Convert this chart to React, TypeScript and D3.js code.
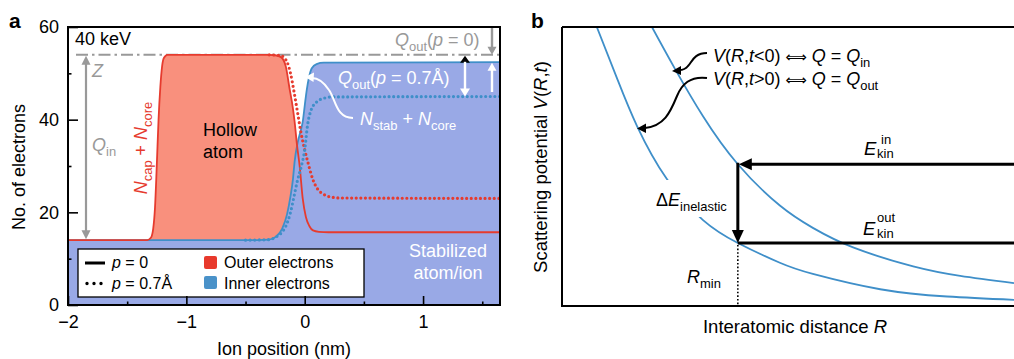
import * as d3 from 'd3';
import { useEffect, useRef } from 'react';

const FONT = '"Liberation Sans", Arial, Helvetica, sans-serif';

// ---- panel a: electrons vs ion position (nm) ----
const outerP0X = [-2, -1.33, -1.3, -1.28, -1.265, -1.25, -1.235, -1.22, -1.205, -1.19, -1.16, -1.1, -0.3, -0.25, -0.2, -0.16, -0.13, -0.1, -0.085, -0.065, -0.042, -0.017, 0.01, 0.04, 0.07, 0.12, 0.2, 1.65];
const outerP0Y = [14, 14, 14.5, 16.5, 21, 30, 40, 47, 51.5, 53.3, 54, 54, 54, 53.9, 53.5, 51.5, 47, 42.5, 39.5, 34.5, 29.8, 23, 19, 17, 16.1, 15.8, 15.7, 15.7];
const outerP07X = [-0.3, -0.2, -0.15, -0.12, -0.09, -0.06, -0.03, 0, 0.03, 0.07, 0.11, 0.16, 0.22, 0.3, 1.65];
const outerP07Y = [54, 53.8, 52.5, 50, 46, 41.5, 37, 33.5, 30.5, 27, 25, 23.9, 23.3, 23.1, 23];
const innerP0X = [-2, -0.4, -0.3, -0.24, -0.19, -0.15, -0.12, -0.1, -0.085, -0.06, -0.035, -0.017, 0, 0.017, 0.035, 0.06, 0.1, 0.16, 1.65];
const innerP0Y = [14, 14, 14.1, 14.8, 16.5, 19.5, 23.5, 27, 31, 35, 37.5, 39.5, 43, 46.4, 49, 51.1, 52, 52.3, 52.4];
const innerP07X = [-0.5, -0.3, -0.25, -0.2, -0.16, -0.12, -0.09, -0.06, -0.03, 0, 0.025, 0.05, 0.1, 0.16, 0.23, 1.65];
const innerP07Y = [14, 14.1, 14.6, 15.5, 17, 20, 23.5, 27, 29.8, 33.5, 39, 41.8, 43.8, 44.6, 44.9, 45];
const xTicksA = [-2, -1, 0, 1];
const xMinorA = [-1.5, -0.5, 0.5, 1.5];
const yTicksA = [0, 20, 40, 60];
const yMinorA = [10, 30, 50];
const Z = 54;
const Q_OUT_P0 = 52.4;
const Q_OUT_P07 = 45;
const Q_IN = 14;

// ---- panel b: scattering potential vs R (arb. units) ----
const rUpper = [1.99, 2.5, 3.12, 3.89, 4.82, 5.55, 6.44, 7.77, 8.81, 10];
const vUpper = [10, 8.5, 6.8, 5.08, 3.6, 2.8, 2.1, 1.42, 1.08, 0.82];
const rLower = [0.77, 1.22, 1.66, 2.32, 3.12, 3.89, 4.82, 5.55, 7.04, 8.52, 10];
const vLower = [10, 8.15, 6.45, 4.55, 3.08, 2.26, 1.55, 1.15, 0.6, 0.34, 0.22];
const E_IN = 5.08;
const E_OUT = 2.26;
const R_MIN = 3.89;

const RED = '#e63b2e';
const BLUE = '#3f8fc9';
const SALMON = '#f9907d';
const BLUEFILL = '#99a9e6';
const GREY = '#999999';

type Part = { t: string; i?: boolean; sub?: boolean; sup?: boolean; f?: string; s?: number };

const Rich = ({ x, y, parts, size, fill = '#000', anchor = 'start', transform }: {
    x: number; y: number; parts: Part[]; size: number; fill?: string; anchor?: string; transform?: string;
}) => {
    let shift = 0;
    return (
        <text x={x} y={y} fontSize={size} fill={fill} textAnchor={anchor} transform={transform}
            fontFamily={FONT} style={{ whiteSpace: 'pre' }}>
            {parts.map((p, k) => {
                const target = p.sub ? size * 0.28 : p.sup ? -size * 0.4 : 0;
                const dy = target - shift;
                shift = target;
                return (
                    <tspan key={k} dy={dy} fontStyle={p.i ? 'italic' : 'normal'} fontFamily={p.f}
                        fontSize={p.s ?? (p.sub || p.sup ? size * 0.72 : size)}>{p.t}</tspan>
                );
            })}
        </text>
    );
};

const head = (tx: number, ty: number, dir: 'up' | 'down' | 'left', len: number, hw: number) => {
    if (dir === 'up') return `${tx},${ty} ${tx - hw},${ty + len} ${tx + hw},${ty + len}`;
    if (dir === 'down') return `${tx},${ty} ${tx - hw},${ty - len} ${tx + hw},${ty - len}`;
    return `${tx},${ty} ${tx + len},${ty - hw} ${tx + len},${ty + hw}`;
};

const App = () => {
    const xAxisRef = useRef<SVGGElement>(null);
    const yAxisRef = useRef<SVGGElement>(null);

    const xA = d3.scaleLinear().domain([-2, 1.65]).range([68, 500]);
    const yA = d3.scaleLinear().domain([0, 60]).range([305, 27]);
    const xB = d3.scaleLinear().domain([0, 10]).range([562, 1014]);
    const yB = d3.scaleLinear().domain([0, 10]).range([306, 27]);

    useEffect(() => {
        const gx = d3.select(xAxisRef.current);
        gx.selectAll('*').remove();
        gx.append('g').call(d3.axisBottom(xA).tickValues(xTicksA).tickSizeInner(-9).tickSizeOuter(0)
            .tickPadding(10).tickFormat(d3.format('d')));
        gx.append('g').call(d3.axisBottom(xA).tickValues(xMinorA).tickSizeInner(-3.5).tickSizeOuter(0)
            .tickFormat(() => ''));

        const gy = d3.select(yAxisRef.current);
        gy.selectAll('*').remove();
        gy.append('g').call(d3.axisLeft(yA).tickValues(yTicksA).tickSizeInner(-10).tickSizeOuter(0)
            .tickPadding(9));
        gy.append('g').call(d3.axisLeft(yA).tickValues(yMinorA).tickSizeInner(-3.5).tickSizeOuter(0)
            .tickFormat(() => ''));

        [gx, gy].forEach((g) => {
            g.selectAll('.domain').remove();
            g.selectAll('line').attr('stroke', '#000').attr('stroke-width', 1.6);
            g.selectAll('text').attr('font-size', 18).attr('font-family', FONT).attr('fill', '#000');
        });
    }, []);

    const pairs = (xs: number[], ys: number[]) => d3.zip(xs, ys) as [number, number][];
    const lineA = d3.line<[number, number]>().x((d) => xA(d[0])).y((d) => yA(d[1])).curve(d3.curveMonotoneX);
    const areaA = d3.area<[number, number]>().x((d) => xA(d[0])).y0(yA(0)).y1((d) => yA(d[1])).curve(d3.curveMonotoneX);
    const lineB = d3.line<[number, number]>().x((d) => xB(d[0])).y((d) => yB(d[1])).curve(d3.curveNatural);

    const outer0 = pairs(outerP0X, outerP0Y);
    const outer07 = pairs(outerP07X, outerP07Y);
    const inner0 = pairs(innerP0X, innerP0Y);
    const inner07 = pairs(innerP07X, innerP07Y);

    const yZ = yA(Z);
    const yQin = yA(Q_IN);
    const yQ0 = yA(Q_OUT_P0);
    const yQ07 = yA(Q_OUT_P07);

    const rx = xB(R_MIN);
    const yIn = yB(E_IN);
    const yOut = yB(E_OUT);

    const arrowPart: Part = { t: ' ⟺ ', f: '"DejaVu Sans", sans-serif', s: 15 };

    return (
        <svg width={1014} height={359} style={{ position: 'absolute', left: 0, top: 0, background: '#fff' }}
            fontFamily={FONT}>
            <defs>
                <clipPath id="clipA"><rect x={68} y={27} width={432} height={278} /></clipPath>
                <clipPath id="clipB"><rect x={562} y={27} width={460} height={279} /></clipPath>
            </defs>

            {/* ---------- panel a ---------- */}
            <text x={9} y={28} fontSize={21} fontWeight="bold">a</text>
            <g clipPath="url(#clipA)">
                <line x1={76} x2={500} y1={yZ} y2={yZ} stroke={GREY} strokeWidth={2} strokeDasharray="12 4 2.5 4" />
                <path d={areaA(outer0) || ''} fill={SALMON} />
                <path d={areaA(inner0) || ''} fill={BLUEFILL} />
                <path d={lineA(inner0) || ''} fill="none" stroke={BLUE} strokeWidth={1.8} />
                <path d={lineA(outer0) || ''} fill="none" stroke={RED} strokeWidth={1.8} />
                <path d={lineA(outer07) || ''} fill="none" stroke={RED} strokeWidth={3.2}
                    strokeDasharray="0 4.6" strokeLinecap="round" />
                <path d={lineA(inner07) || ''} fill="none" stroke={BLUE} strokeWidth={3.2}
                    strokeDasharray="0 4.6" strokeLinecap="round" />
            </g>

            <text x={75} y={45} fontSize={18}>40 keV</text>

            {/* Q_in arrow */}
            <line x1={86} x2={86} y1={yZ + 8} y2={yQin - 8} stroke={GREY} strokeWidth={2.2} />
            <polygon points={head(86, yZ + 1, 'up', 9, 4.5)} fill={GREY} />
            <polygon points={head(86, yQin - 1, 'down', 9, 4.5)} fill={GREY} />
            <Rich x={92} y={77} size={18} fill={GREY} parts={[{ t: 'Z', i: true }]} />
            <Rich x={92} y={151} size={18} fill={GREY} parts={[{ t: 'Q', i: true }, { t: 'in', sub: true }]} />

            <Rich x={0} y={0} size={18} fill={RED} anchor="middle" transform="translate(147,148) rotate(-90)"
                parts={[{ t: 'N', i: true }, { t: 'cap', sub: true }, { t: ' + ' }, { t: 'N', i: true }, { t: 'core', sub: true }]} />

            <text x={203} y={136} fontSize={18}>Hollow</text>
            <text x={203} y={158} fontSize={18}>atom</text>

            {/* Q_out(p=0) */}
            <Rich x={395} y={46} size={18} fill={GREY}
                parts={[{ t: 'Q', i: true }, { t: 'out', sub: true }, { t: '(' }, { t: 'p', i: true }, { t: ' = 0)' }]} />
            <line x1={492} x2={492} y1={27} y2={yZ - 7} stroke={GREY} strokeWidth={2.4} />
            <polygon points={head(492, yZ, 'down', 8, 4.5)} fill={GREY} />
            <line x1={492} x2={492} y1={92} y2={yQ0 + 7} stroke="#fff" strokeWidth={2.4} />
            <polygon points={head(492, yQ0 + 0.5, 'up', 8, 4.5)} fill="#fff" />

            {/* Q_out(p=0.7) */}
            <polygon points={head(465, yZ + 1, 'up', 7, 5)} fill="#000" />
            <line x1={465} x2={465} y1={yZ + 7} y2={yQ07 - 7} stroke="#fff" strokeWidth={2.4} />
            <polygon points={head(465, yQ07, 'down', 8, 5)} fill="#fff" />
            <Rich x={338} y={84} size={18} fill="#fff"
                parts={[{ t: 'Q', i: true }, { t: 'out', sub: true }, { t: '(' }, { t: 'p', i: true }, { t: ' = 0.7Å)' }]} />

            <Rich x={360} y={125} size={18} fill="#fff"
                parts={[{ t: 'N', i: true }, { t: 'stab', sub: true }, { t: ' + ' }, { t: 'N', i: true }, { t: 'core', sub: true }]} />
            <path d="M 353 118 C 336 118, 336 100, 329 90 C 323 81, 318 78, 312 78" fill="none" stroke="#fff" strokeWidth={2} />
            <polygon points="305,77 314,72.5 313.5,82" fill="#fff" />

            <text x={448} y={257} fontSize={18} fill="#fff" textAnchor="middle">Stabilized</text>
            <text x={448} y={279} fontSize={18} fill="#fff" textAnchor="middle">atom/ion</text>

            {/* legend */}
            <rect x={78} y={249} width={286} height={48} fill="#fff" stroke="#000" strokeWidth={1.3} />
            <line x1={85} x2={105} y1={263} y2={263} stroke="#000" strokeWidth={3} />
            <line x1={87} x2={102} y1={283.5} y2={283.5} stroke="#000" strokeWidth={3.4}
                strokeDasharray="0 7" strokeLinecap="round" />
            <Rich x={112} y={268} size={16} parts={[{ t: 'p', i: true }, { t: ' = 0' }]} />
            <Rich x={112} y={289} size={16} parts={[{ t: 'p', i: true }, { t: ' = 0.7Å' }]} />
            <rect x={204} y={256} width={13} height={13} rx={2} fill="#e8392c" />
            <rect x={204} y={276} width={13} height={13} rx={2} fill="#4a92c9" />
            <text x={224} y={268} fontSize={16}>Outer electrons</text>
            <text x={224} y={289} fontSize={16}>Inner electrons</text>

            <g ref={xAxisRef} transform="translate(0,305)" />
            <g ref={yAxisRef} transform="translate(68,0)" />
            <rect x={68} y={27} width={432} height={278} fill="none" stroke="#000" strokeWidth={2} />

            <text x={0} y={0} fontSize={18} textAnchor="middle" transform="translate(25,167) rotate(-90)">No. of electrons</text>
            <text x={284} y={355} fontSize={18} textAnchor="middle">Ion position (nm)</text>

            {/* ---------- panel b ---------- */}
            <text x={531} y={28} fontSize={21} fontWeight="bold">b</text>
            <g clipPath="url(#clipB)">
                <path d={lineB(pairs(rLower, vLower)) || ''} fill="none" stroke={BLUE} strokeWidth={1.8} />
                <path d={lineB(pairs(rUpper, vUpper)) || ''} fill="none" stroke={BLUE} strokeWidth={1.8} />
            </g>
            <rect x={650} y={180} width={83} height={37} fill="#fff" />

            <line x1={750} x2={1016} y1={yIn} y2={yIn} stroke="#000" strokeWidth={3} />
            <polygon points={head(rx + 1, yIn, 'left', 13, 6)} fill="#000" />
            <line x1={rx} x2={rx} y1={yIn - 1.5} y2={yOut - 11} stroke="#000" strokeWidth={3} />
            <polygon points={head(rx, yOut, 'down', 13, 6)} fill="#000" />
            <line x1={rx} x2={1016} y1={yOut} y2={yOut} stroke="#000" strokeWidth={3} />
            <line x1={rx} x2={rx} y1={yOut + 2} y2={306} stroke="#000" strokeWidth={1.6} strokeDasharray="1.6 2" />

            <Rich x={656} y={206} size={18} parts={[{ t: 'Δ' }, { t: 'E', i: true }, { t: 'inelastic', sub: true }]} />
            <Rich x={687} y={283} size={18} parts={[{ t: 'R', i: true }, { t: 'min', sub: true }]} />

            <Rich x={864} y={155} size={18.5} parts={[{ t: 'E', i: true }]} />
            <text x={881} y={144} fontSize={13}>in</text>
            <text x={877} y={157.5} fontSize={13}>kin</text>
            <Rich x={863} y={235} size={18.5} parts={[{ t: 'E', i: true }]} />
            <text x={877} y={222} fontSize={13}>out</text>
            <text x={877} y={237.5} fontSize={13}>kin</text>

            <Rich x={713} y={62} size={18}
                parts={[{ t: 'V', i: true }, { t: '(' }, { t: 'R', i: true }, { t: ',' }, { t: 't', i: true },
                    { t: '<0)' }, arrowPart, { t: 'Q', i: true }, { t: ' = ' }, { t: 'Q', i: true }, { t: 'in', sub: true }]} />
            <Rich x={713} y={85} size={18}
                parts={[{ t: 'V', i: true }, { t: '(' }, { t: 'R', i: true }, { t: ',' }, { t: 't', i: true },
                    { t: '>0)' }, arrowPart, { t: 'Q', i: true }, { t: ' = ' }, { t: 'Q', i: true }, { t: 'out', sub: true }]} />
            <path d="M 707 53 C 694 53, 692 62, 688 66 C 685 70, 682 70, 679 70" fill="none" stroke="#000" strokeWidth={2} />
            <polygon points="672,71 681,66 681,75" fill="#000" />
            <path d="M 707 78 C 690 76, 682 84, 677 96 C 670 113, 664 126, 645 128" fill="none" stroke="#000" strokeWidth={2} />
            <polygon points="637,128.5 646,123.5 646,133" fill="#000" />

            <path d="M 562 27 H 1016 M 562 27 V 306 H 1016" fill="none" stroke="#000" strokeWidth={2} />

            <Rich x={0} y={0} size={18.5} anchor="middle" transform="translate(547,167) rotate(-90)"
                parts={[{ t: 'Scattering potential ' }, { t: 'V', i: true }, { t: '(' }, { t: 'R', i: true },
                    { t: ',' }, { t: 't', i: true }, { t: ')' }]} />
            <Rich x={795} y={333} size={18.5} anchor="middle"
                parts={[{ t: 'Interatomic distance ' }, { t: 'R', i: true }]} />
        </svg>
    );
};

export default App;
